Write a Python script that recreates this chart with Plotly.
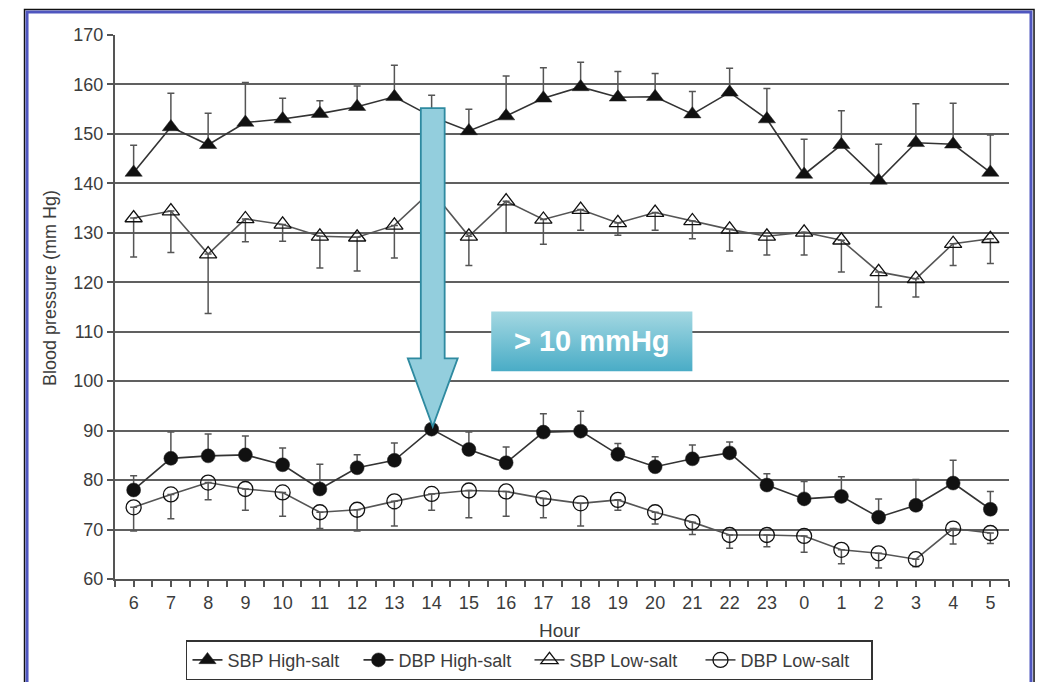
import plotly.graph_objects as go

# ---- data ----
hours = ["6", "7", "8", "9", "10", "11", "12", "13", "14", "15", "16", "17",
         "18", "19", "20", "21", "22", "23", "0", "1", "2", "3", "4", "5"]

sbp_high = [142.2, 151.4, 147.8, 152.3, 153.0, 154.1, 155.5, 157.5, 153.5, 150.6, 153.6, 157.2,
            159.5, 157.4, 157.5, 154.0, 158.4, 153.0, 141.8, 147.8, 140.6, 148.2, 147.9, 142.2]
sbp_high_err = [5.5, 6.8, 6.4, 8.1, 4.2, 2.6, 4.2, 6.4, 4.3, 4.4, 8.1, 6.2,
                5.0, 5.2, 4.7, 4.6, 4.9, 6.2, 7.1, 6.9, 7.3, 7.9, 8.3, 7.6]

dbp_high = [78.0, 84.4, 84.9, 85.1, 83.1, 78.2, 82.5, 84.0, 90.3, 86.2, 83.5, 89.7,
            89.9, 85.2, 82.7, 84.3, 85.5, 79.0, 76.2, 76.7, 72.5, 74.9, 79.4, 74.1]
dbp_high_err = [2.9, 5.3, 4.4, 3.8, 3.4, 5.0, 2.6, 3.5, 3.0, 3.5, 3.2, 3.7,
                4.0, 2.2, 2.0, 2.8, 2.2, 2.3, 3.5, 4.0, 3.7, 5.2, 4.6, 3.6]

sbp_low = [133.0, 134.4, 125.7, 132.8, 131.7, 129.3, 129.1, 131.5, 138.5, 129.3, 136.4, 132.7,
           134.7, 132.0, 134.1, 132.4, 130.7, 129.3, 130.1, 128.5, 122.1, 120.7, 127.8, 128.8]
sbp_low_err = [7.9, 8.4, 12.0, 4.6, 3.4, 6.4, 6.8, 6.6, 6.0, 5.9, 6.4, 5.0,
               4.2, 2.5, 3.6, 3.6, 4.4, 3.8, 4.6, 6.4, 7.1, 3.7, 4.4, 5.0]

dbp_low = [74.5, 77.1, 79.5, 78.2, 77.5, 73.5, 74.0, 75.7, 77.2, 77.9, 77.7, 76.3,
           75.3, 76.0, 73.5, 71.5, 68.9, 68.9, 68.7, 65.9, 65.2, 64.0, 70.2, 69.3]
dbp_low_err = [4.8, 4.9, 3.5, 4.3, 4.8, 3.3, 4.3, 5.0, 3.3, 5.5, 5.0, 3.9,
               4.6, 2.1, 2.4, 2.5, 2.7, 2.4, 3.3, 2.8, 3.0, 1.5, 3.1, 2.1]

y_ticks = [60, 70, 80, 90, 100, 110, 120, 130, 140, 150, 160, 170]
annotation_text = "> 10 mmHg"

# ---- figure ----
idx = list(range(len(hours)))
zeros = [0] * len(hours)
FONT = "Liberation Sans, Arial, sans-serif"
TXT = "#3c3c3c"
ERRC = "#555555"

fig = go.Figure()


def add_series(name, vals, err, up, symbol, size, line_color, mline):
    fig.add_trace(go.Scatter(
        x=idx, y=vals, name=name, mode="lines+markers",
        line=dict(color=line_color, width=1.6),
        marker=dict(symbol=symbol, size=size, color="#111111",
                    line=dict(color="#222222", width=mline)),
        error_y=dict(type="data", symmetric=False,
                     array=err if up else zeros,
                     arrayminus=zeros if up else err,
                     color=ERRC, thickness=1.5, width=3.5),
        hoverinfo="skip",
    ))


add_series("SBP High-salt", sbp_high, sbp_high_err, True, "triangle-up", 15, "#333333", 0.5)
add_series("DBP High-salt", dbp_high, dbp_high_err, True, "circle", 14, "#333333", 0.5)
add_series("SBP Low-salt", sbp_low, sbp_low_err, False, "triangle-up-open", 15, "#555555", 1.3)
add_series("DBP Low-salt", dbp_low, dbp_low_err, False, "circle-open", 15, "#555555", 1.3)

# gradient box for the "> 10 mmHg" label
bx0, bx1, by0, by1 = 9.6, 15.0, 102.0, 114.1
fig.add_trace(go.Scatter(
    x=[bx0, bx1, bx1, bx0, bx0], y=[by0, by0, by1, by1, by0],
    mode="lines", line=dict(width=0), fill="toself",
    fillgradient=dict(type="vertical", start=by0, stop=by1,
                      colorscale=[[0, "#49acc6"], [1, "#a4d8e2"]]),
    showlegend=False, hoverinfo="skip",
))

fig.add_annotation(x=(bx0 + bx1) / 2, y=(by0 + by1) / 2, xref="x", yref="y",
                   text="<b>" + annotation_text.replace(">", "&gt;") + "</b>",
                   showarrow=False, font=dict(family=FONT, size=29, color="white"))

# big arrow pointing at the 14h DBP point
cx = 8.03
sw, hw = 0.32, 0.67
ytop, ybase, ytip = 155.2, 104.6, 90.8
path = (f"M {cx - sw},{ytop} L {cx + sw},{ytop} L {cx + sw},{ybase} L {cx + hw},{ybase} "
        f"L {cx},{ytip} L {cx - hw},{ybase} L {cx - sw},{ybase} Z")
fig.add_shape(type="path", path=path, xref="x", yref="y",
              fillcolor="#93cedd", line=dict(color="#2e8aa0", width=1.8), layer="above")

# outer frame (black + blue)
fig.add_shape(type="rect", xref="paper", yref="paper",
              x0=-0.1012, x1=1.0280, y0=-0.25, y1=1.0469,
              line=dict(color="#111111", width=1.5), fillcolor="rgba(0,0,0,0)", layer="below")
fig.add_shape(type="rect", xref="paper", yref="paper",
              x0=-0.0984, x1=1.0246, y0=-0.25, y1=1.0423,
              line=dict(color="#4f56bf", width=3), fillcolor="rgba(0,0,0,0)", layer="below")

# axis titles
fig.add_annotation(x=-0.0727, y=0.535, xref="paper", yref="paper", text="Blood pressure (mm Hg)",
                   textangle=-90, showarrow=False, xanchor="center", yanchor="middle",
                   font=dict(family=FONT, size=18, color=TXT))
fig.add_annotation(x=0.4978, y=-0.094, xref="paper", yref="paper", text="Hour",
                   showarrow=False, xanchor="center", yanchor="middle",
                   font=dict(family=FONT, size=19, color=TXT))

fig.update_xaxes(
    range=[-0.5, len(hours) - 0.5], tickmode="array", tickvals=idx, ticktext=hours,
    showgrid=False, zeroline=False, showline=True, linecolor="#555555", linewidth=2,
    ticks="outside", ticklen=6, tickwidth=1.5, tickcolor="#555555",
    minor=dict(tick0=0.5, dtick=1, ticks="outside", ticklen=6, tickwidth=1.5,
               tickcolor="#555555", showgrid=False),
    tickfont=dict(family=FONT, size=18, color=TXT),
)
fig.update_yaxes(
    range=[60, 170], tickmode="array", tickvals=y_ticks,
    showgrid=True, gridcolor="#606060", gridwidth=2, zeroline=False,
    showline=True, linecolor="#555555", linewidth=2,
    ticks="outside", ticklen=6, tickwidth=1.5, tickcolor="#555555",
    tickfont=dict(family=FONT, size=18, color=TXT),
)

fig.update_layout(
    width=1039, height=682,
    margin=dict(l=115, r=30, t=35, b=103, autoexpand=False),
    paper_bgcolor="white", plot_bgcolor="white",
    showlegend=True,
    legend=dict(orientation="h", x=0.0794, y=-0.1125, xanchor="left", yanchor="top",
                bordercolor="#333333", borderwidth=1.5, bgcolor="white",
                font=dict(family=FONT, size=18, color=TXT),
                itemwidth=30, tracegroupgap=0,
                entrywidth=126, entrywidthmode="pixels"),
)

fig.write_html("out.html")
